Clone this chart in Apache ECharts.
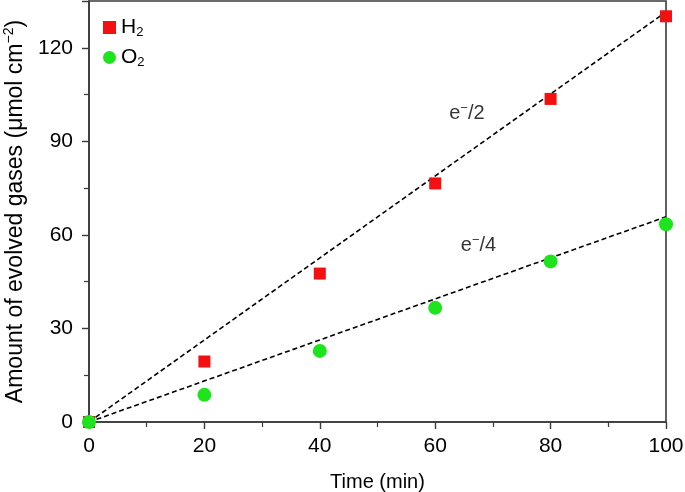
<!DOCTYPE html>
<html><head><meta charset="utf-8">
<script src="https://cdn.jsdelivr.net/npm/echarts@6/dist/echarts.min.js"></script>
<style>html,body{margin:0;padding:0;background:#fff}#c{width:685px;height:492px}</style>
</head><body><div id="c"></div>
<script>
const times = [0, 20, 40, 60, 80, 100];
const h2 = [0, 19.4, 47.6, 76.5, 103.6, 130.1];
const o2 = [0, 8.7, 22.8, 36.6, 51.5, 63.4];
const fitH2 = [[0, 0], [100, 131.5]];
const fitO2 = [[0, 0], [100, 65.8]];
const fitLabels = [{ value: [65.5, 99], text: '/2' }, { value: [67.5, 56.5], text: '/4' }];
const xTicks = [0, 20, 40, 60, 80, 100];
const yTicks = [0, 30, 60, 90, 120];

const F = 'Liberation Sans, Arial, Helvetica, sans-serif';
const chart = echarts.init(document.getElementById('c'));
const axisCol = '#3a3a3a';
chart.setOption({
  animation: false,
  grid: { left: 89, right: 19, top: 1, bottom: 70, show: true, borderColor: axisCol, borderWidth: 1.6,
    containLabel: false, outerBoundsMode: 'none' },
  legend: {
    orient: 'vertical', left: 98, top: 12, itemWidth: 13, itemHeight: 13, itemGap: 8,
    data: [{ name: 'H2', icon: 'rect' }, { name: 'O2', icon: 'circle' }],
    formatter: n => n[0] + '{sub|2}',
    textStyle: { fontFamily: F, fontSize: 21, color: '#000',
      rich: { sub: { fontSize: 13, fontFamily: F, color: '#000', padding: [10, 0, 0, 0] } } }
  },
  xAxis: {
    type: 'value', min: 0, max: 100, interval: 20,
    name: 'Time (min)', nameLocation: 'middle', nameGap: 50,
    nameTextStyle: { fontFamily: F, fontSize: 20, color: '#000' },
    axisLine: { onZero: false, lineStyle: { color: axisCol, width: 1.6 } },
    axisTick: { show: true, length: 7, lineStyle: { color: axisCol, width: 1.4 } },
    minorTick: { show: true, splitNumber: 2, length: 5, lineStyle: { color: axisCol, width: 1.2 } },
    axisLabel: { fontFamily: F, fontSize: 21, color: '#000', margin: 14,
      formatter: v => xTicks.includes(v) ? String(v) : '' },
    splitLine: { show: false }
  },
  yAxis: {
    type: 'value', min: 0, max: 135, interval: 30,
    name: 'Amount of evolved gases (μmol cm{sup|−2})', nameLocation: 'middle', nameGap: 58,
    nameRotate: 90,
    nameTextStyle: { fontFamily: F, fontSize: 23, color: '#000',
      rich: { sup: { fontSize: 14, fontFamily: F, color: '#000', padding: [0, 0, 12, 0] } } },
    axisLine: { onZero: false, lineStyle: { color: axisCol, width: 1.6 } },
    axisTick: { show: true, length: 7, lineStyle: { color: axisCol, width: 1.4 } },
    minorTick: { show: true, splitNumber: 2, length: 5, lineStyle: { color: axisCol, width: 1.2 } },
    axisLabel: { fontFamily: F, fontSize: 21, color: '#000', margin: 16,
      formatter: v => yTicks.includes(v) ? String(v) : '' },
    splitLine: { show: false }
  },
  series: [
    { type: 'line', data: fitH2, symbol: 'none', silent: true,
      lineStyle: { color: '#000', width: 1.6, type: [5, 3] }, z: 1 },
    { type: 'line', data: fitO2, symbol: 'none', silent: true,
      lineStyle: { color: '#000', width: 1.6, type: [5, 3] }, z: 1 },
    { name: 'H2', type: 'scatter', symbol: 'rect', symbolSize: 12, itemStyle: { color: '#f21010', opacity: 1 },
      data: times.map((t, i) => [t, h2[i]]), z: 3 },
    { name: 'O2', type: 'scatter', symbol: 'circle', symbolSize: 14, itemStyle: { color: '#1de41d', opacity: 1 },
      data: times.map((t, i) => [t, o2[i]]), z: 4 },
    { type: 'scatter', symbolSize: 0, silent: true,
      data: fitLabels.map(d => ({ value: d.value, text: d.text })),
      label: { show: true, position: 'inside',
        formatter: p => 'e{sup|−}' + p.data.text,
        fontFamily: F, fontSize: 20, color: '#000',
        rich: { sup: { fontSize: 13, fontFamily: F, color: '#000', padding: [0, 0, 10, 0] } } } }
  ]
});
</script></body></html>
